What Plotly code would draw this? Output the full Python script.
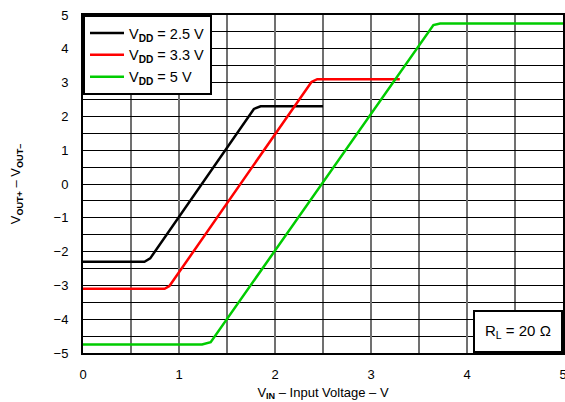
import plotly.graph_objects as go

# Data
vin_25 = [0.0, 0.64, 0.70, 1.78, 1.85, 2.5]
vout_25 = [-2.30, -2.30, -2.20, 2.22, 2.30, 2.30]
vin_33 = [0.0, 0.85, 0.90, 2.38, 2.44, 3.3]
vout_33 = [-3.10, -3.10, -3.02, 3.02, 3.10, 3.10]
vin_5 = [0.0, 1.24, 1.33, 3.65, 3.72, 5.0]
vout_5 = [-4.75, -4.75, -4.68, 4.70, 4.75, 4.75]

series = [
    ("V<sub><b>DD</b></sub> = 2.5 V", vin_25, vout_25, "#000000"),
    ("V<sub><b>DD</b></sub> = 3.3 V", vin_33, vout_33, "#ff0000"),
    ("V<sub><b>DD</b></sub> = 5 V", vin_5, vout_5, "#00cc00"),
]

x_ticks = [0, 1, 2, 3, 4, 5]
y_ticks = [-5, -4, -3, -2, -1, 0, 1, 2, 3, 4, 5]

fig = go.Figure()
for name, xs, ys, col in series:
    fig.add_trace(go.Scatter(x=xs, y=ys, mode="lines", name=name,
                             line=dict(color=col, width=2.5)))

font = dict(family="Liberation Sans, Arial, sans-serif", size=13, color="black")

fig.update_layout(
    width=565, height=402,
    margin=dict(l=83, r=2, t=15, b=49, autoexpand=False),
    paper_bgcolor="white", plot_bgcolor="white",
    font=font,
    showlegend=True,
    legend=dict(x=0, y=1, xanchor="left", yanchor="top",
                bgcolor="white", bordercolor="black", borderwidth=2,
                font=dict(size=14.5), tracegroupgap=0, itemwidth=34),
    xaxis=dict(range=[0, 5], tickvals=x_ticks, ticktext=[str(v) for v in x_ticks],
               automargin=False, ticklabeloverflow="allow",
               showgrid=True, gridcolor="#707070", gridwidth=1.5,
               minor=dict(dtick=0.5, showgrid=True, gridcolor="#707070", gridwidth=1.5),
               showline=True, linecolor="black", linewidth=2, mirror=True,
               ticks="", zeroline=False, ticklabelstandoff=8,
               tickfont=dict(size=13),
               title=dict(text="V<sub><b>IN</b></sub> – Input Voltage – V",
                          font=dict(size=13), standoff=7)),
    yaxis=dict(range=[-5, 5], tickvals=y_ticks,
               ticktext=[str(v).replace("-", "−") for v in y_ticks],
               automargin=False, ticklabeloverflow="allow",
               showgrid=True, gridcolor="#000000", gridwidth=1,
               minor=dict(dtick=0.5, showgrid=True, gridcolor="#000000", gridwidth=1),
               showline=True, linecolor="black", linewidth=2, mirror=True,
               ticks="", zeroline=False, ticklabelstandoff=10,
               tickfont=dict(size=13),
               title=dict(text="V<sub><b>OUT+</b></sub> – V<sub><b>OUT–</b></sub>",
                          font=dict(size=13), standoff=30)),
    annotations=[dict(x=1, y=0, xref="paper", yref="paper",
                      xanchor="right", yanchor="bottom",
                      text="R<sub>L</sub> = 20 Ω", showarrow=False,
                      bgcolor="white", bordercolor="black", borderwidth=2,
                      borderpad=10, font=dict(size=15))],
)

fig.write_html("out.html", config={"displayModeBar": False},
               post_script="document.body.style.margin='0';")
